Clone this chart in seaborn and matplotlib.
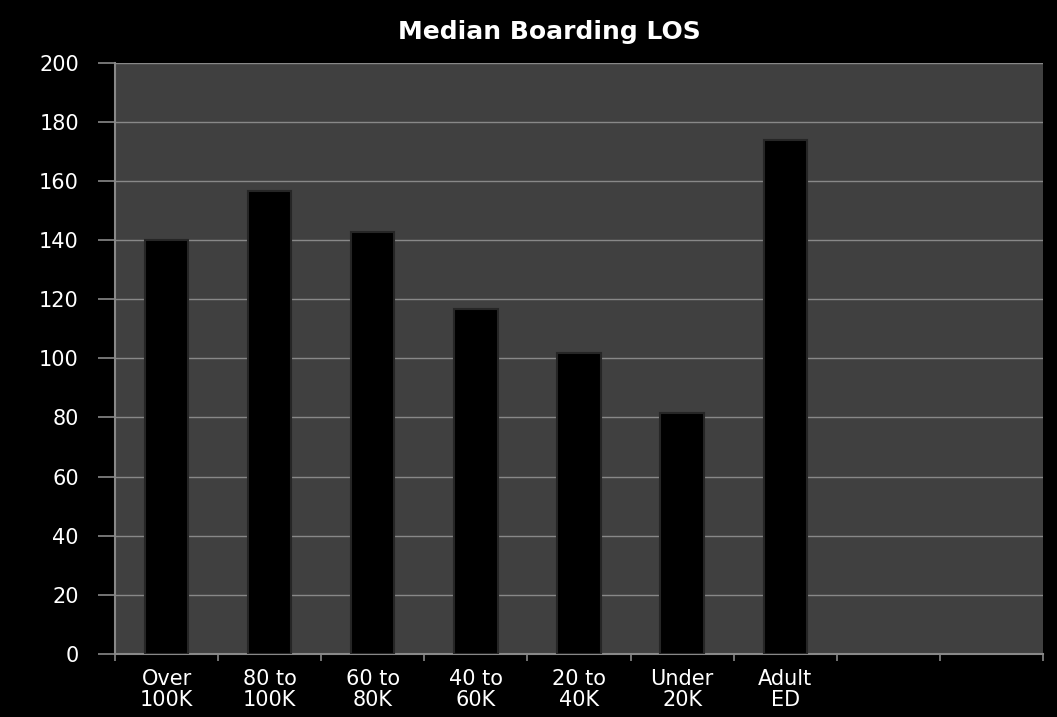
import matplotlib
matplotlib.use("Agg")
import matplotlib.pyplot as plt
import seaborn as sns
import numpy as np
import pandas as pd
from matplotlib.ticker import FixedLocator

# ---- data ----
categories = ["Over\n100K", "80 to\n100K", "60 to\n80K", "40 to\n60K",
              "20 to\n40K", "Under\n20K", "Adult\nED"]
values = [140.0, 156.6, 142.7, 116.7, 101.9, 81.6, 173.8]
title = "Median Boarding LOS"
y_ticks = [0, 20, 40, 60, 80, 100, 120, 140, 160, 180, 200]
n_slots = 9  # category slots on the axis (last two empty)

df = pd.DataFrame({"cat": categories, "val": values})

sns.set_theme(style="dark")
plt.rcParams["font.family"] = ["DejaVu Sans"]

fig = plt.figure(figsize=(10.57, 7.17), dpi=100, facecolor="black")
ax = fig.add_axes([0.1088, 0.0879, 0.9868 - 0.1088, 0.8247])
ax.set_facecolor("#404040")

sns.barplot(data=df, x="cat", y="val", ax=ax, color="black", width=0.42,
            saturation=1, edgecolor="#262626", linewidth=1.5, zorder=3)

ax.set_xlim(-0.5, n_slots - 0.5)
ax.set_ylim(0, 200)
ax.yaxis.set_major_locator(FixedLocator(y_ticks))
ax.set_yticklabels([str(v) for v in y_ticks])
ax.grid(axis="y", color="#888888", linewidth=1.0, zorder=1)
ax.grid(axis="x", visible=False)
ax.set_axisbelow(True)

ax.set_xticks(range(len(categories)))
ax.set_xticklabels(categories, multialignment="center", linespacing=1.05)
ax.xaxis.set_minor_locator(FixedLocator(np.arange(-0.5, n_slots, 1.0)))
ax.tick_params(axis="x", which="major", length=0, pad=11, labelsize=15,
               labelcolor="white")
ax.tick_params(axis="x", which="minor", length=5, width=1.2, color="#888888",
               direction="out", bottom=True)
ax.tick_params(axis="y", which="major", length=12, width=1.2, color="#888888",
               direction="out", left=True, pad=14, labelsize=15,
               labelcolor="white")

for s in ["top", "right"]:
    ax.spines[s].set_visible(False)
for s in ["left", "bottom"]:
    ax.spines[s].set_visible(True)
    ax.spines[s].set_color("#888888")
    ax.spines[s].set_linewidth(1.5)

ax.set_xlabel("")
ax.set_ylabel("")

fig.text(0.52, 0.955, title, ha="center", va="center", color="white",
         fontsize=18, fontweight="bold")

fig.savefig("out.png", dpi=100, facecolor="black")
